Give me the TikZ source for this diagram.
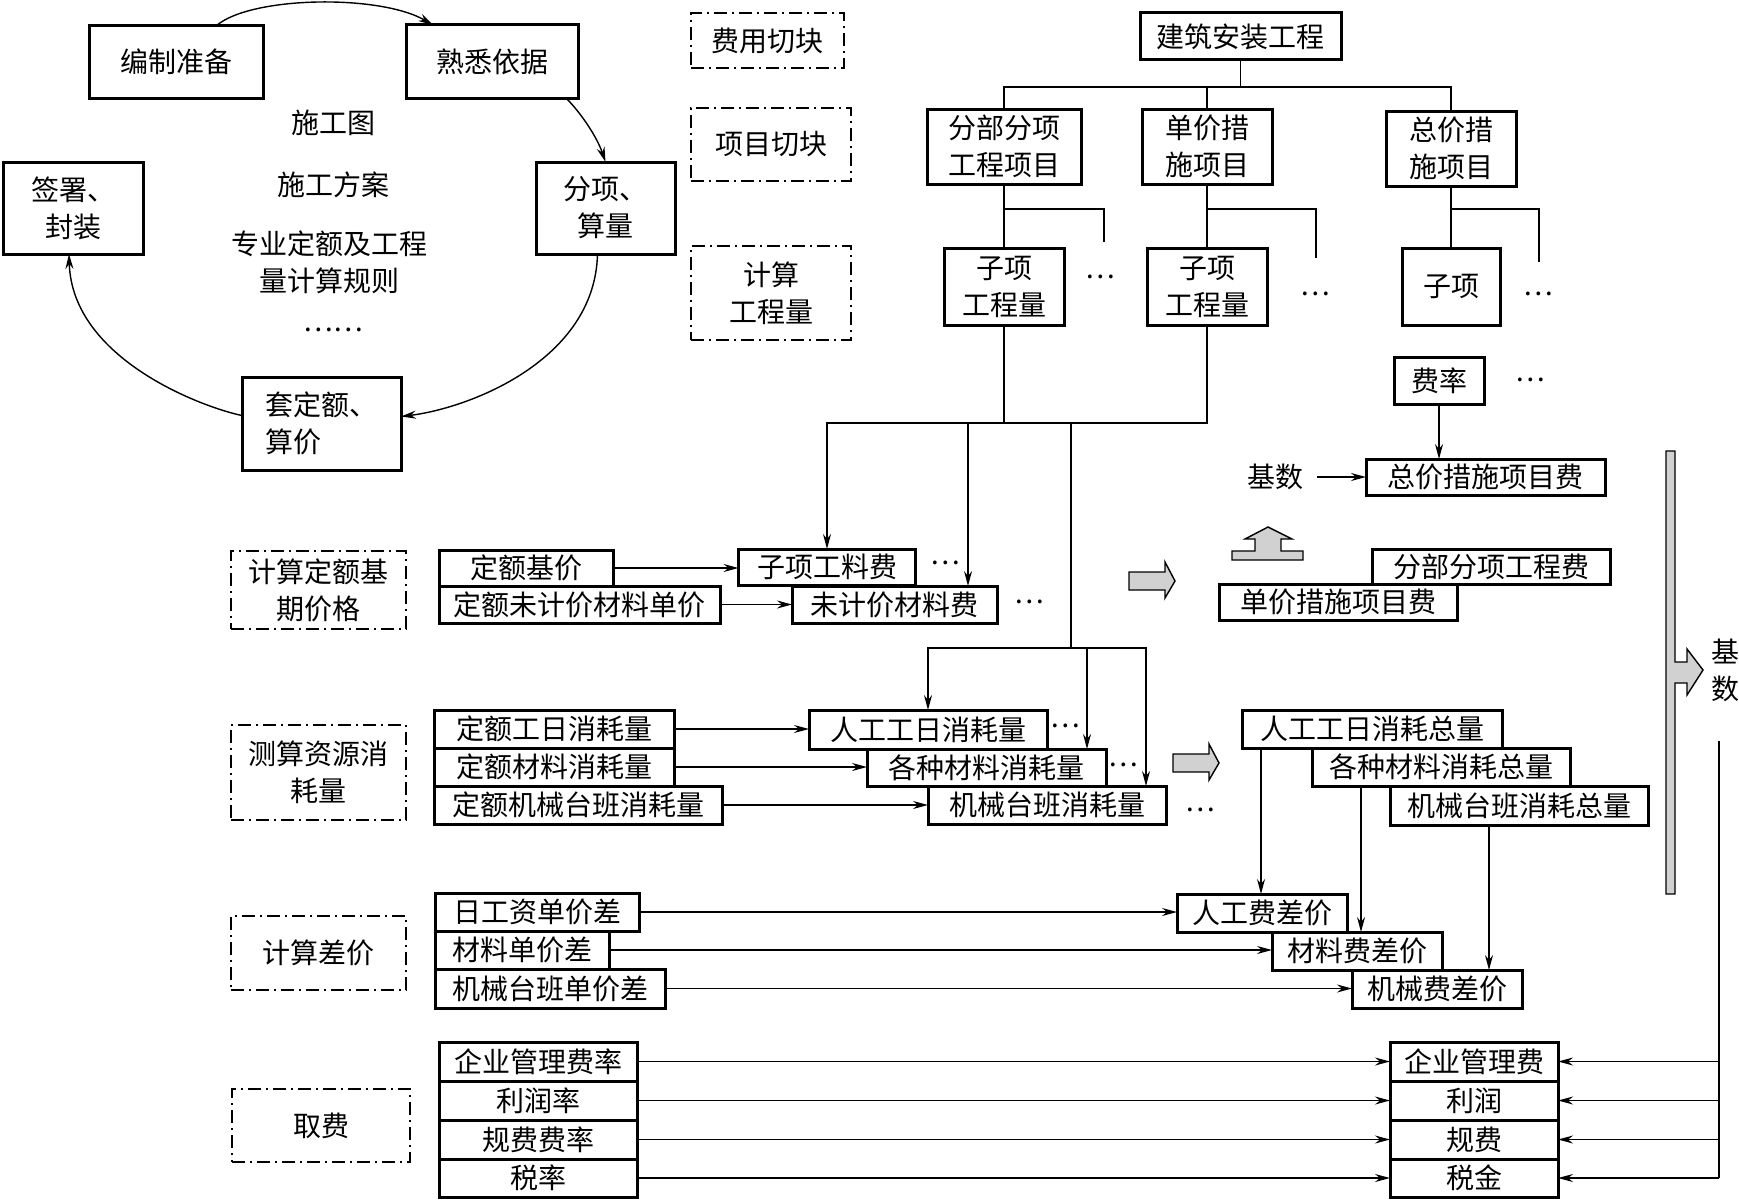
\documentclass[tikz,border=0pt]{standalone}
\usepackage{fontspec}
\newfontfamily\cjk{Noto Sans CJK SC}
\usetikzlibrary{arrows.meta,positioning}
\tikzset{
  txt/.style={font=\cjk\fontsize{28pt}{37pt}\selectfont,inner sep=0pt,align=center},
  sz/.style 2 args={minimum width=#1pt,minimum height=#2pt},
  box/.style={txt,draw,line width=3pt,outer sep=0pt},
  cut/.style={txt,draw,line width=1.8pt,outer sep=0pt,
              dash pattern=on 13pt off 5pt on 2pt off 5pt},
  ln/.style={line width=1.4pt},
  ar/.style={ln,-{Stealth[length=15pt,width=8pt,inset=5pt]}},
  blk/.style={draw,line width=1.4pt,fill=black!18,line join=miter}
}
\begin{document}
\begin{tikzpicture}[x=1pt,y=-1pt]
  \useasboundingbox (0,0) rectangle (1739,1199);
  % working cycle
  \node[box,sz={174}{72}] (bzzb) at (176,62) {编制准备};
  \node[box,sz={172}{73}] (sxyj) at (492,61.5) {熟悉依据};
  \node[box,sz={139}{92}] (fxsl) at (605.5,208) {分项、\\算量};
  \node[box,sz={140}{92}] (qsfz) at (73,208) {签署、\\封装};
  \node[box,sz={159}{93},align=left] (tdesj) at (321.5,423.5) {套定额、\\算价};
  \node[txt] (sgt) at (333,123) {施工图};
  \node[txt] (sgfa) at (333,185) {施工方案};
  \node[txt] (zyde) at (329,262) {专业定额及工程\\量计算规则};
  \node[txt] (dt0) at (333,330) {……};
  \draw[ar] ([xshift=40pt]bzzb.north) .. controls (250,-4) and (380,-6) .. ([xshift=-59pt]sxyj.north);
  \draw[ar] ([xshift=74pt]sxyj.south) .. controls (581,113) and (597,137) .. (fxsl.north);
  \draw[ar] ([xshift=-8pt]fxsl.south) .. controls (595,360) and (470,408) .. ([yshift=7pt]tdesj.east);
  \draw[ar] ([yshift=8pt]tdesj.west) .. controls (205,408) and (72,360) .. ([xshift=-4pt]qsfz.south);
  % step labels
  \node[cut,sz={153}{55}] (fyqk) at (767.5,40.5) {费用切块};
  \node[cut,sz={160}{73},line width=2.6pt] (xmqk) at (771,144.5) {项目切块};
  \node[cut,sz={160}{94}] (jsgcl) at (771,293) {计算\\工程量};
  \node[cut,sz={175}{78}] (jsde) at (318.5,590) {计算定额基\\期价格};
  \node[cut,sz={175}{95}] (cszy) at (318.5,772.5) {测算资源消\\耗量};
  \node[cut,sz={175}{74}] (jscj) at (318.5,953) {计算差价};
  \node[cut,sz={178}{73}] (qf) at (321,1125.5) {取费};
  % project tree
  \node[box,sz={201}{47}] (jazgc) at (1240.5,36.5) {建筑安装工程};
  \node[box,sz={154}{75}] (fbfx) at (1004,146.5) {分部分项\\工程项目};
  \node[box,sz={130}{75}] (djcs) at (1207,146.5) {单价措\\施项目};
  \node[box,sz={130}{75}] (zjcs) at (1451,148.5) {总价措\\施项目};
  \node[box,sz={120}{77}] (zx1) at (1004,286.5) {子项\\工程量};
  \node[box,sz={120}{77}] (zx2) at (1207,286.5) {子项\\工程量};
  \node[box,sz={98}{77}] (zx3) at (1451,286.5) {子项};
  \node[txt] (dt1) at (1100,277) {…};
  \node[txt] (dt2) at (1315,294) {…};
  \node[txt] (dt3) at (1538,294) {…};
  \draw[ln] (jazgc.south) -- ++(0,27) coordinate (tjA);
  \draw[ln] (fbfx.north) |- (tjA) -| (zjcs.north);
  \draw[ln] (djcs.north) -- (djcs.north |- tjA);
  \draw[ln] (fbfx.south) -- (zx1.north); \draw[ln] (djcs.south) -- (zx2.north); \draw[ln] (zjcs.south) -- (zx3.north);
  \draw[ln] (fbfx.south) ++(0,25) -- ++(100,0) -- ++(0,33);
  \draw[ln] (djcs.south) ++(0,25) -- ++(109,0) -- ++(0,49);
  \draw[ln] (zjcs.south) ++(0,23) -- ++(88,0) -- ++(0,53);
  % base prices
  \node[box,sz={174}{36}] (dejj) at (526,568) {定额基价};
  \node[box,sz={281}{37}] (dewjj) at (579.5,604.5) {定额未计价材料单价};
  \node[box,sz={177}{36}] (zxglf) at (827,567) {子项工料费};
  \node[box,sz={205}{37}] (wjjclf) at (894.5,604.5) {未计价材料费};
  \node[txt] (dt4) at (945,563) {…};
  \node[txt] (dt5) at (1029,602) {…};
  \draw[ar] (dejj.east) -- (dejj.east -| zxglf.west);
  \draw[ar] (dewjj.east) -- (dewjj.east -| wjjclf.west);
  % resource consumption
  \node[box,sz={240}{38}] (degr) at (554,729) {定额工日消耗量};
  \node[box,sz={240}{38}] (decl) at (554,767) {定额材料消耗量};
  \node[box,sz={288}{38}] (dejx) at (578,805) {定额机械台班消耗量};
  \node[box,sz={238}{39}] (rggr) at (928,729.5) {人工工日消耗量};
  \node[box,sz={239}{37}] (gzcl) at (986.5,767.5) {各种材料消耗量};
  \node[box,sz={238}{38}] (jxtb) at (1047,805) {机械台班消耗量};
  \node[txt] (dt6) at (1065,726) {…};
  \node[txt] (dt7) at (1123,765) {…};
  \node[txt] (dt8) at (1200,810) {…};
  \draw[ar] (degr.east) -- (degr.east -| rggr.west);
  \draw[ar] (decl.east) -- (decl.east -| gzcl.west);
  \draw[ar] (dejx.east) -- (dejx.east -| jxtb.west);
  % quantities down to the rows
  \coordinate (tjB) at (827,423); \coordinate (dB) at (968,423); \coordinate (dC) at (1071,423);
  \coordinate (tjC) at (1071,648); \coordinate (dD) at (1087,648); \coordinate (dE) at (1146,648);
  \draw[ln] (zx1.south) -- (zx1.south |- tjB);
  \draw[ar] (zx2.south) |- (tjB) -- (tjB |- zxglf.north);
  \draw[ar] (dB) -- (dB |- wjjclf.north);
  \draw[ln] (dC) -- (tjC);
  \draw[ar] (tjC) -| (rggr.north);
  \draw[ar] (dD) -- (dD |- gzcl.north);
  \draw[ar] (tjC) -- (dE) -- (dE |- jxtb.north);
  % totals
  \node[box,sz={260}{38}] (rgzl) at (1372,729) {人工工日消耗总量};
  \node[box,sz={258}{38}] (clzl) at (1441,767) {各种材料消耗总量};
  \node[box,sz={258}{39}] (jxzl) at (1519,805.5) {机械台班消耗总量};
  % price differences
  \node[box,sz={204}{38}] (rgzdj) at (537,912) {日工资单价差};
  \node[box,sz={174}{38}] (cldjc) at (522,950) {材料单价差};
  \node[box,sz={230}{39}] (jxdjc) at (550,988.5) {机械台班单价差};
  \node[box,sz={170}{38}] (rgfcj) at (1262,913) {人工费差价};
  \node[box,sz={170}{38}] (clfcj) at (1357,951) {材料费差价};
  \node[box,sz={170}{38}] (jxfcj) at (1437,989) {机械费差价};
  \draw[ar] (rgzdj.east) -- (rgzdj.east -| rgfcj.west);
  \draw[ar] (cldjc.east) -- (cldjc.east -| clfcj.west);
  \draw[ar] (jxdjc.east) -- (jxdjc.east -| jxfcj.west);
  \path ([xshift=19pt]rgzl.south west) coordinate (eA);
  \path ([xshift=49pt]clzl.south west) coordinate (eB);
  \path ([xshift=99pt]jxzl.south west) coordinate (eC);
  \draw[ar] (eA) -- (eA |- rgfcj.north);
  \draw[ar] (eB) -- (eB |- clfcj.north);
  \draw[ar] (eC) -- (eC |- jxfcj.north);
  % fees
  \node[box,sz={198}{39}] (qyglfl) at (538,1061.5) {企业管理费率};
  \node[box,sz={198}{39},below=0pt of qyglfl] (lrl) {利润率};
  \node[box,sz={198}{39},below=0pt of lrl] (gffl) {规费费率};
  \node[box,sz={198}{38},below=0pt of gffl] (sl) {税率};
  \node[box,sz={168}{39}] (qyglf) at (1474,1061.5) {企业管理费};
  \node[box,sz={168}{39},below=0pt of qyglf] (lr) {利润};
  \node[box,sz={168}{39},below=0pt of lr] (gf) {规费};
  \node[box,sz={168}{38},below=0pt of gf] (sj) {税金};
  \draw[ar] (qyglfl.east) -- (qyglf.west); \draw[ar] (lrl.east) -- (lr.west);
  \draw[ar] (gffl.east) -- (gf.west); \draw[ar] (sl.east) -- (sj.west);
  \coordinate (jsR) at (1719,741);
  \draw[ln] (jsR) -- (jsR |- sj.east);
  \draw[ar] (jsR |- qyglf.east) -- (qyglf.east); \draw[ar] (jsR |- lr.east) -- (lr.east);
  \draw[ar] (jsR |- gf.east) -- (gf.east); \draw[ar] (jsR |- sj.east) -- (sj.east);
  % measure costs
  \node[box,sz={90}{47}] (fl) at (1439,380.5) {费率};
  \node[txt] (dt9) at (1530,380) {…};
  \node[box,sz={239}{36}] (zjcsf) at (1485.5,477) {总价措施项目费};
  \node[txt] (js1) at (1275,477) {基数};
  \draw[ar] (fl.south) -- (fl.south |- zjcsf.north);
  \draw[ar] ([xshift=14pt]js1.east) -- (zjcsf.west);
  \node[box,sz={238}{35}] (fbfxf) at (1491,566.5) {分部分项工程费};
  \node[box,sz={238}{36}] (djcsf) at (1338,602) {单价措施项目费};
  \node[txt] (js2) at (1725,670) {基\\数};
  % block arrows
  \draw[blk] (1129,572) -- (1165,572) -- (1165,562) -- (1175,581) -- (1165,598) -- (1165,590) -- (1129,590) -- cycle;
  \draw[blk] (1173,754) -- (1209,754) -- (1209,744) -- (1219,763) -- (1209,780) -- (1209,772) -- (1173,772) -- cycle;
  \draw[blk] (1232,560) -- (1303,560) -- (1303,551) -- (1281,551) -- (1281,539) -- (1292,539) -- (1268,527)
    -- (1245,539) -- (1255,539) -- (1255,551) -- (1232,551) -- cycle;
  \draw[blk] (1675,451) -- (1666,451) -- (1666,894) -- (1675,894) -- (1675,683) -- (1687,683) -- (1687,695)
    -- (1703,670) -- (1687,649) -- (1687,662) -- (1675,662) -- cycle;
\end{tikzpicture}
\end{document}
